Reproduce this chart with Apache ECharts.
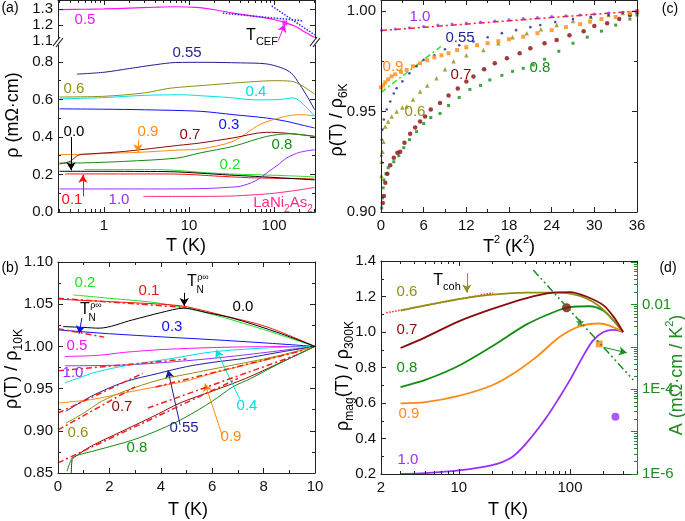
<!DOCTYPE html>
<html><head><meta charset="utf-8">
<script src="https://cdn.jsdelivr.net/npm/echarts@6/dist/echarts.min.js"></script>
<style>html,body{margin:0;padding:0;background:#fff}#c{width:685px;height:521px}</style>
</head><body><div id="c"></div>
<script>
const FONT = '"Liberation Sans", Arial, Helvetica, sans-serif';
const AXC = '#222';

// ---------------- Panel (a): rho(T) vs log T ----------------
const aXLabels = [1, 10, 100];
const aYTopLabels = [1.1, 1.2, 1.3];
const aYLabels = [0.0, 0.2, 0.4, 0.6, 0.8];
const a05 = [[0.3,1.298],[0.6,1.300],[1,1.302],[2,1.307],[4,1.313],[7,1.316],[12,1.312],[20,1.297],[33,1.276],[60,1.255],[100,1.235],[135,1.215],[180,1.19],[230,1.155],[300,1.12]];
const aCEF1 = [[25,1.275],[219,1.227]];
const aCEF2 = [[94,1.321],[300,1.137]];
const aTcefPoint = [[134,1.213]];
const a055 = [[0.48,0.735],[1,0.745],[2,0.765],[4,0.785],[7,0.797],[15,0.798],[40,0.795],[80,0.79],[120,0.77],[160,0.74],[200,0.68],[250,0.61],[300,0.545]];
const a06 = [[0.3,0.613],[1,0.617],[3,0.635],[6,0.66],[15,0.675],[40,0.69],[100,0.70],[160,0.697],[220,0.67],[300,0.628]];
const a04 = [[0.3,0.603],[1,0.61],[3,0.622],[8,0.625],[13.5,0.62],[30,0.61],[60,0.598],[108,0.599],[169,0.608],[202,0.59],[250,0.55],[300,0.51]];
const a03 = [[0.3,0.55],[1,0.548],[3,0.545],[13.5,0.537],[33,0.519],[82,0.501],[141,0.483],[220,0.462],[300,0.448]];
const a09 = [[0.3,0.306],[0.5,0.307],[1,0.312],[2.5,0.318],[7.4,0.33],[13.5,0.336],[33,0.377],[68,0.466],[128,0.507],[200,0.519],[300,0.513]];
const a07 = [[0.3,0.256],[0.4,0.27],[0.5,0.303],[0.7,0.31],[1.75,0.323],[7.4,0.355],[13.5,0.368],[33,0.395],[82,0.425],[141,0.42],[300,0.403]];
const a08 = [[0.3,0.261],[0.6,0.262],[1.75,0.27],[7.4,0.288],[13.5,0.315],[33,0.35],[82,0.403],[154,0.417],[300,0.403]];
const a00 = [[0.3,0.217],[1,0.217],[3,0.216],[6,0.215],[13.5,0.207],[30,0.197],[60,0.19],[100,0.184],[200,0.176],[300,0.171]];
const a02 = [[0.59,0.226],[1,0.226],[3,0.226],[6,0.224],[13.5,0.212],[30,0.203],[82,0.197],[150,0.193],[300,0.187]];
const a01 = [[0.35,0.203],[1,0.203],[5,0.203],[10,0.2],[20,0.192],[50,0.183],[100,0.18],[200,0.178],[300,0.176]];
const a10 = [[0.3,0.123],[1,0.123],[5,0.123],[15,0.125],[30,0.132],[40,0.137],[60,0.165],[82,0.208],[110,0.25],[141,0.288],[200,0.318],[300,0.332]];
const aLa = [[2.9,0.083],[10,0.083],[30,0.085],[60,0.092],[100,0.1],[200,0.118],[300,0.131]];

// ---------------- Panel (c): rho/rho6K vs T^2 ----------------
const cXLabels = [0, 6, 12, 18, 24, 30, 36];
const cYLabels = [0.90, 0.95, 1.00];
const c10 = [[0.1,0.9905],[2,0.9911],[4,0.9917],[6,0.9923],[8,0.993],[10,0.9935],[12,0.994],[14,0.9945],[16,0.995],[18,0.9957],[20,0.9963],[22,0.9968],[24,0.9973],[26,0.9977],[28,0.998],[30,0.9985],[32,0.999],[34,0.9994],[36,0.9998]];
const c055 = [[0.05,0.928],[0.1,0.936],[0.2,0.941],[0.4,0.946],[0.8,0.951],[1.3,0.955],[1.8,0.959],[2.2,0.9616],[3,0.965],[4,0.969],[5,0.9725],[6,0.9757],[7.5,0.978],[9,0.981],[11,0.983],[13,0.9848],[15,0.987],[17,0.989],[19,0.9905],[21,0.992],[22.4,0.993],[24.5,0.9945],[27,0.996],[29.5,0.997],[32,0.998],[34,0.999],[36,1.0]];
const c06 = [[0.05,0.918],[0.1,0.925],[0.2,0.93],[0.35,0.935],[0.6,0.9426],[1,0.945],[1.5,0.9475],[2.2,0.95],[3,0.952],[3.6,0.9525],[4.5,0.956],[5.5,0.96],[6.5,0.963],[7.8,0.9666],[9,0.971],[10.2,0.975],[12,0.978],[14.4,0.9806],[16.5,0.984],[18.5,0.987],[20.5,0.989],[22.5,0.991],[24.7,0.993],[27,0.995],[29.5,0.997],[32,0.998],[34,0.999],[36,1.0]];
const c09 = [[0,0.962],[0.3,0.963],[0.6,0.9645],[1,0.966],[1.5,0.9675],[2,0.9685],[2.8,0.9697],[3.6,0.9707],[4.5,0.9725],[5.5,0.974],[6.5,0.9755],[7.5,0.977],[8.5,0.978],[9.5,0.979],[10.7,0.9806],[12,0.982],[13.5,0.983],[15,0.984],[16.5,0.985],[18,0.986],[20,0.9872],[22,0.989],[24,0.9905],[26,0.992],[28,0.9935],[29.4,0.9947],[31,0.996],[33,0.997],[35,0.999],[36,1.0]];
const c07 = [[0.25,0.9045],[0.4,0.908],[0.6,0.9145],[0.9,0.919],[1.3,0.9233],[1.8,0.927],[2.3,0.9295],[2.7,0.930],[3.3,0.9345],[4.1,0.939],[4.8,0.942],[5.5,0.945],[6.2,0.9475],[7,0.951],[8.3,0.9542],[9.5,0.958],[10.8,0.9615],[12,0.965],[13,0.9674],[14.5,0.971],[16,0.974],[17.7,0.9765],[19.5,0.979],[21,0.9815],[23,0.984],[24.7,0.9856],[26.5,0.988],[28.5,0.99],[30,0.9925],[31.8,0.9939],[33.5,0.996],[35,0.998],[36,0.9995]];
const c08 = [[0.1,0.902],[0.2,0.907],[0.3,0.912],[0.4,0.916],[0.7,0.919],[1,0.922],[1.8,0.925],[2.5,0.928],[3.2,0.932],[4,0.936],[5,0.94],[6,0.944],[7,0.947],[8.3,0.949],[9.5,0.953],[11,0.957],[12.5,0.961],[14,0.963],[15.3,0.9657],[17,0.968],[18.5,0.97],[20,0.9715],[21.4,0.9732],[23,0.976],[25,0.98],[27,0.984],[29,0.987],[31,0.99],[33,0.993],[35,0.996],[36,0.998]];
const cFit10 = [[0,0.9903],[36,1.0]];
const cFit09 = [[0,0.9595],[8.4,0.9823]];

// ---------------- Panel (b): rho/rho10K vs T ----------------
const bXLabels = [0, 2, 4, 6, 8, 10];
const bYLabels = [0.85, 0.90, 0.95, 1.00, 1.05, 1.10];
const b02 = [[0.6,1.061],[2,1.057],[4,1.051],[6,1.038],[8,1.02],[10,1.0]];
const b01 = [[0,1.056],[2,1.053],[4,1.05],[5,1.047],[6.5,1.036],[8.1,1.0235],[10,1.0]];
const b00 = [[0.2,1.0235],[1,1.0225],[1.6,1.0216],[2.9,1.0314],[4,1.04],[4.9,1.0453],[5.8,1.04],[6.8,1.0334],[8.5,1.017],[10,1.0]];
const b03 = [[0,1.0196],[0.8,1.0177],[2,1.015],[4.2,1.011],[6,1.008],[8.1,1.004],[10,1.0]];
const b05 = [[0.27,0.988],[1.6,0.9895],[2.6,0.993],[4.2,0.9965],[6.8,0.9992],[10,1.0]];
const b10 = [[0.27,0.977],[2.6,0.978],[5,0.983],[7,0.989],[10,1.0]];
const b04 = [[0.27,0.957],[0.8,0.9625],[1.3,0.968],[2.1,0.974],[3.2,0.98],[4.5,0.986],[6,0.9935],[8,0.998],[10,1.0]];
const b055 = [[0.3,0.923],[1.3,0.941],[2.6,0.958],[3.9,0.968],[5,0.976],[6,0.981],[7.3,0.986],[8.6,0.993],[10,1.0]];
const b06 = [[0.3,0.909],[1,0.921],[1.7,0.935],[2.6,0.947],[3.9,0.96],[5,0.967],[6,0.973],[7,0.979],[8,0.985],[9,0.992],[10,1.0]];
const b09 = [[0,0.933],[1.3,0.937],[2.6,0.945],[3.9,0.9526],[5,0.959],[6,0.968],[7.3,0.978],[8.6,0.988],[10,1.0]];
const b07 = [[0.52,0.85],[0.55,0.866],[0.65,0.869],[1.3,0.882],[2.6,0.901],[3.9,0.92],[4.75,0.933],[6,0.947],[7.3,0.962],[8.6,0.98],[10,1.0]];
const b08 = [[0.35,0.852],[0.55,0.868],[0.75,0.871],[1.5,0.877],[2.9,0.889],[4,0.902],[4.9,0.915],[6,0.935],[6.8,0.952],[7.5,0.962],[8.5,0.978],[9.3,0.99],[10,1.0]];
const bFit08 = [[0,0.862],[7,0.962]];
const bFit07 = [[3.5,0.927],[9.3,0.99]];
const bFit06 = [[0,0.901],[3,0.952]];
const bFit055 = [[0,0.921],[3.3,0.968]];
const bFit09 = [[3.8,0.952],[9.5,0.995]];
const bFit10 = [[0,0.971],[5,0.985]];
const bFit01 = [[0,1.057],[5,1.046]];
const bFit03 = [[0,1.021],[1.8,1.011]];

// ---------------- Panel (d): rho_mag/rho300K vs log T, and A ----------------
const dXLabels = [2, 10, 100];
const dYLabels = [0.2, 0.4, 0.6, 0.8, 1.0, 1.2, 1.4];
const dALabels = [1e-6, 1e-4, 1e-2];
const d06 = [[3,1.12],[5,1.15],[10,1.185],[20,1.21],[40,1.222],[80,1.222],[120,1.205],[160,1.17],[200,1.125],[250,1.06],[300,1.0]];
const d07 = [[3,0.91],[5,0.97],[10,1.06],[20,1.13],[40,1.19],[70,1.222],[100,1.225],[140,1.2],[200,1.15],[250,1.08],[300,1.0]];
const d08 = [[3,0.69],[5,0.73],[10,0.81],[20,0.92],[40,1.04],[70,1.11],[100,1.14],[150,1.145],[200,1.12],[250,1.06],[300,1.0]];
const d09 = [[3,0.598],[5,0.605],[10,0.64],[20,0.7],[30,0.76],[50,0.86],[80,0.97],[120,1.03],[180,1.048],[230,1.035],[300,1.0]];
const d10 = [[3,0.2],[5,0.205],[10,0.22],[20,0.25],[30,0.295],[40,0.37],[60,0.51],[80,0.63],[100,0.73],[130,0.86],[160,0.95],[200,1.0],[250,1.012],[300,1.0]];
const dFit06 = [[2.23,1.108],[20.4,1.221]];
const dA07 = [[93,0.00845]];
const dA08 = [[123,0.00382]];
const dA09 = [[183,0.00118]];
const dA10 = [[256,2.25e-5]];
const dAtrend = [[46.7,0.0656],[370,1.66e-4]];

// ---------------- colours ----------------
const C = {x00:'#000000', x01:'#ff1010', x02:'#22e022', x03:'#1010ff', x04:'#00e0e0', x05:'#ff10ff',
  x055:'#1f1f96', x06:'#8f8f12', x07:'#8b0a0a', x08:'#138c13', x09:'#ff8a14', x10:'#9a2eff', la:'#ff2a8a', A:'#1e8c1e'};

// ---------------- axes ----------------
const xAxes = [], yAxes = [];
function mk(o) {
  const col = o.color || AXC;
  const a = {
    type: o.type || 'value', gridIndex: o.grid, position: o.pos, min: o.min, max: o.max,
    axisLine: {show: !!o.line, onZero: false, lineStyle: {color: col, width: 1}},
    axisTick: {show: true, inside: true, length: o.len || 5, customValues: o.ticks, lineStyle: {color: col, width: 1}},
    axisLabel: {show: !!o.labels, color: o.lcolor || '#111', fontSize: o.fs || 15, fontFamily: FONT, margin: o.margin == null ? 5 : o.margin},
    splitLine: {show: false}, minorTick: {show: false}, minorSplitLine: {show: false},
    silent: true, z: 10
  };
  if (o.labels) a.axisLabel.customValues = o.labels;
  if (o.fmt) a.axisLabel.formatter = o.fmt;
  if (a.type === 'log') a.logBase = 10;
  return a;
}
function addX(o) { xAxes.push(mk(o)); return xAxes.length - 1; }
function addY(o) { yAxes.push(mk(o)); return yAxes.length - 1; }
const seq = (a, b, s) => { const r = []; for (let v = a; v <= b + 1e-9; v += s) r.push(+v.toFixed(4)); return r; };
const logMinor = (decades, from, to) => { const r = []; decades.forEach(d => { for (let k = 2; k <= 9; k++) { const v = +(k * d).toPrecision(3); if (v >= from && v <= to) r.push(v); } }); return r; };

const f1 = v => v.toFixed(1), f2 = v => v.toFixed(2), fi = v => String(Math.round(v));

// grid 0: (a) upper
const aXmin = 0.288, aXmax = 303;
const aMinorX = logMinor([0.1, 1, 10, 100], 0.3, 300);
const gx0 = addX({grid:0, type:'log', min:aXmin, max:aXmax, pos:'top', line:true, ticks:aXLabels});
addX({grid:0, type:'log', min:aXmin, max:aXmax, pos:'top', ticks:aMinorX, len:3});
const gy0 = addY({grid:0, min:1.098, max:1.359, pos:'left', line:true, ticks:aYTopLabels, labels:aYTopLabels, fmt:f1});
addY({grid:0, min:1.098, max:1.359, pos:'right', line:true, ticks:aYTopLabels});
// grid 1: (a) lower
const gx1 = addX({grid:1, type:'log', min:aXmin, max:aXmax, pos:'bottom', line:true, ticks:aXLabels, labels:aXLabels, fmt:fi, margin:6});
addX({grid:1, type:'log', min:aXmin, max:aXmax, pos:'bottom', ticks:aMinorX, len:3});
const gy1 = addY({grid:1, min:0, max:0.901, pos:'left', line:true, ticks:aYLabels, labels:aYLabels, fmt:f1});
addY({grid:1, min:0, max:0.901, pos:'left', ticks:[0.1,0.3,0.5,0.7], len:3});
addY({grid:1, min:0, max:0.901, pos:'right', line:true, ticks:aYLabels});
addY({grid:1, min:0, max:0.901, pos:'right', ticks:[0.1,0.3,0.5,0.7], len:3});
// grid 2: (c)
const gx2 = addX({grid:2, min:0, max:36, pos:'bottom', line:true, ticks:cXLabels, labels:cXLabels, fmt:fi, margin:6});
addX({grid:2, min:0, max:36, pos:'bottom', ticks:seq(3,33,6), len:3});
addX({grid:2, min:0, max:36, pos:'top', line:true, ticks:cXLabels});
addX({grid:2, min:0, max:36, pos:'top', ticks:seq(3,33,6), len:3});
const gy2 = addY({grid:2, min:0.9, max:1.0055, pos:'left', line:true, ticks:cYLabels, labels:cYLabels, fmt:f2});
addY({grid:2, min:0.9, max:1.0055, pos:'left', ticks:[0.925,0.975], len:3});
addY({grid:2, min:0.9, max:1.0055, pos:'right', line:true, ticks:cYLabels});
addY({grid:2, min:0.9, max:1.0055, pos:'right', ticks:[0.925,0.975], len:3});
// grid 3: (b)
const gx3 = addX({grid:3, min:0, max:10, pos:'bottom', line:true, ticks:bXLabels, labels:bXLabels, fmt:fi, margin:6});
addX({grid:3, min:0, max:10, pos:'bottom', ticks:seq(1,9,2), len:3});
addX({grid:3, min:0, max:10, pos:'top', line:true, ticks:bXLabels});
addX({grid:3, min:0, max:10, pos:'top', ticks:seq(1,9,2), len:3});
const gy3 = addY({grid:3, min:0.85, max:1.10, pos:'left', line:true, ticks:bYLabels, labels:bYLabels, fmt:f2});
addY({grid:3, min:0.85, max:1.10, pos:'left', ticks:seq(0.875,1.075,0.05), len:3});
addY({grid:3, min:0.85, max:1.10, pos:'right', line:true, ticks:bYLabels});
addY({grid:3, min:0.85, max:1.10, pos:'right', ticks:seq(0.875,1.075,0.05), len:3});
// grid 4: (d)
const dMinorX = logMinor([1, 10, 100], 2.5, 400);
const gx4 = addX({grid:4, type:'log', min:2, max:400, pos:'bottom', line:true, ticks:[10,100], labels:dXLabels, fmt:fi, margin:6});
addX({grid:4, type:'log', min:2, max:400, pos:'bottom', ticks:dMinorX, len:3});
addX({grid:4, type:'log', min:2, max:400, pos:'top', line:true, ticks:[10,100]});
addX({grid:4, type:'log', min:2, max:400, pos:'top', ticks:dMinorX, len:3});
const gy4 = addY({grid:4, min:0.2, max:1.4, pos:'left', line:true, ticks:dYLabels, labels:dYLabels, fmt:f1});
addY({grid:4, min:0.2, max:1.4, pos:'left', ticks:seq(0.3,1.3,0.2), len:3});
const aFmt = v => { const e = Math.round(Math.log10(v)); return e === -2 ? '0.01' : ('1E' + e); };
const gyA = addY({grid:4, type:'log', min:1e-6, max:0.107, pos:'right', line:true, color:C.A, lcolor:C.A, ticks:[1e-6,1e-5,1e-4,1e-3,1e-2,1e-1], labels:dALabels, fmt:aFmt, len:6});
addY({grid:4, type:'log', min:1e-6, max:0.107, pos:'right', color:C.A, ticks:logMinor([1e-6,1e-5,1e-4,1e-3,1e-2], 1e-6, 0.107), len:3});

// ---------------- series ----------------
const series = [];
function ln(data, color, xi, yi, w, extra) {
  const s = {type:'line', data, xAxisIndex: xi, yAxisIndex: yi, showSymbol:false, symbol:'none', smooth:0.3,
    lineStyle:{color, width: w || 1}, itemStyle:{color}, silent:true, animation:false, z:3};
  Object.assign(s, extra || {});
  series.push(s); return s;
}
function dots(data, color, symbol, size, xi, yi) {
  series.push({type:'scatter', data, xAxisIndex: xi, yAxisIndex: yi, symbol, symbolSize: size,
    itemStyle:{color}, silent:true, animation:false, z:4});
}
function arrows(host, list) {
  host.markLine = {silent:true, animation:false, symbol:['none','arrow'], symbolSize:[7,8], label:{show:false},
    data: list.map(a => [{coord:a[0], lineStyle:{color:a[2], width:1, type:'solid'}}, {coord:a[1]}])};
}
const DD = [6,3,2,3];

// (a)
const sA05 = ln(a05, C.x05, gx0, gy0, 1.2);
ln(aCEF1, '#2a2aff', gx0, gy0, 1.5, {smooth:false, lineStyle:{color:'#2a2aff', width:1.5, type:'dotted'}});
ln(aCEF2, '#2a2aff', gx0, gy0, 1.5, {smooth:false, lineStyle:{color:'#2a2aff', width:1.5, type:'dotted'}});
dots(aTcefPoint, C.x05, 'rect', 5, gx0, gy0);
arrows(sA05, [[[112,1.10],[134,1.205],C.x05]]);
ln(a055, C.x055, gx1, gy1);
ln(a06, C.x06, gx1, gy1);
ln(a04, C.x04, gx1, gy1);
ln(a03, C.x03, gx1, gy1);
ln(a09, C.x09, gx1, gy1);
ln(a07, C.x07, gx1, gy1);
ln(a08, C.x08, gx1, gy1);
ln(a02, C.x02, gx1, gy1);
ln(a01, C.x01, gx1, gy1);
const sA00 = ln(a00, C.x00, gx1, gy1);
ln(a10, C.x10, gx1, gy1);
ln(aLa, C.la, gx1, gy1);
arrows(sA00, [[[0.41,0.40],[0.41,0.222],C.x00],[[2.51,0.386],[2.51,0.318],C.x09],[[0.566,0.083],[0.566,0.199],C.x01]]);

// (c)
ln(cFit10, '#ff2020', gx2, gy2, 1.5, {smooth:false, lineStyle:{color:'#ff2020', width:1.5, type:DD}});
dots(c08, C.x08, 'rect', 3, gx2, gy2);
dots(c07, C.x07, 'circle', 4.5, gx2, gy2);
dots(c06, C.x06, 'triangle', 4.5, gx2, gy2);
dots(c055, C.x055, 'circle', 2.6, gx2, gy2);
dots(c09, C.x09, 'rect', 4, gx2, gy2);
dots(c10, C.x10, 'circle', 3, gx2, gy2);
ln(cFit09, '#33dd33', gx2, gy2, 1.5, {smooth:false, lineStyle:{color:'#33dd33', width:1.5, type:DD}});

// (b)
ln(b02, C.x02, gx3, gy3);
ln(b01, C.x01, gx3, gy3);
const sB00 = ln(b00, C.x00, gx3, gy3);
ln(b03, C.x03, gx3, gy3);
ln(b05, C.x05, gx3, gy3);
ln(b10, C.x10, gx3, gy3);
ln(b04, C.x04, gx3, gy3);
ln(b055, C.x055, gx3, gy3);
ln(b06, C.x06, gx3, gy3);
ln(b09, C.x09, gx3, gy3);
ln(b07, C.x07, gx3, gy3);
ln(b08, C.x08, gx3, gy3);
[bFit08, bFit07, bFit06, bFit055, bFit09, bFit10, bFit01, bFit03].forEach(f =>
  ln(f, '#ff1a1a', gx3, gy3, 1.5, {smooth:false, z:5, lineStyle:{color:'#ff1a1a', width:1.5, type:DD}}));
arrows(sB00, [[[4.91,1.0634],[4.91,1.048],C.x00],[[0.93,1.0338],[0.82,1.015],C.x03],
  [[4.75,0.907],[4.28,0.972],C.x055],[[7.08,0.937],[6.15,0.996],C.x04],[[6.38,0.8955],[5.72,0.956],C.x09]]);

// (d)
ln(dFit06, '#ff2020', gx4, gy4, 1.5, {smooth:false, lineStyle:{color:'#ff2020', width:1.5, type:'dotted'}});
ln(d10, C.x10, gx4, gy4, 1.8);
ln(d09, C.x09, gx4, gy4, 1.8);
ln(d08, C.x08, gx4, gy4, 1.8);
const sD06 = ln(d06, C.x06, gx4, gy4, 1.8);
ln(d07, C.x07, gx4, gy4, 1.8);
const sDA = ln(dAtrend, C.A, gx4, gyA, 1.5, {smooth:false, z:6, lineStyle:{color:C.A, width:1.5, type:[8,3,2,3,2,3]}});
dots(dA07, C.x07, 'circle', 9, gx4, gyA);
dots(dA08, C.x08, 'path://M0,-10 L2.9,-4 9.5,-3.1 4.8,1.5 5.9,8.1 0,5 -5.9,8.1 -4.8,1.5 -9.5,-3.1 -2.9,-4 Z', 8, gx4, gyA);
dots(dA09, C.x09, 'rect', 7, gx4, gyA);
dots(dA10, C.x10, 'circle', 8, gx4, gyA);
arrows(sD06, [[[11.8,1.332],[11.8,1.222],C.x06]]);
arrows(sDA, [[[200,9.8e-4],[324,7.3e-4],C.A]]);

// ---------------- text ----------------
function txt(x, y, text, color, size, rot) {
  const s = size || 15;
  return {type:'text', x, y, rotation: rot || 0, silent:true, z:200,
    style:{text, fill: color || '#000', fontSize: s, fontFamily: FONT,
      align:'center', verticalAlign:'middle', textAlign:'center', textVerticalAlign:'middle',
      rich:{
        b:{fontSize:s, fontFamily:FONT, lineHeight:Math.round(s*1.45), verticalAlign:'middle'},
        s:{fontSize:Math.round(s*0.66), fontFamily:FONT, lineHeight:Math.round(s*0.66), verticalAlign:'bottom'},
        p:{fontSize:Math.round(s*0.62), fontFamily:FONT, lineHeight:Math.round(s*0.62), verticalAlign:'top'}
      }}};
}
const R = Math.PI / 2;
const texts = [
  txt(10, 8, '(a)', '#000', 14), txt(10, 268, '(b)', '#000', 14), txt(670, 9, '(c)', '#000', 14), txt(668, 268, '(d)', '#000', 14),
  // axis titles
  txt(13, 115, 'ρ (mΩ·cm)', '#000', 18, R),
  txt(186, 246, 'T (K)', '#000', 18),
  txt(337, 120, '{b|ρ(T) / ρ}{s|6K}', '#000', 18, R),
  txt(509, 247, '{b|T}{p|2}{b| (K}{p|2}{b|)}', '#000', 18),
  txt(12, 369, '{b|ρ(T) / ρ}{s|10K}', '#000', 18, R),
  txt(188, 510, 'T (K)', '#000', 18),
  txt(343, 376, '{b|ρ}{s|mag}{b|(T) / ρ}{s|300K}', '#000', 18, R),
  txt(508, 510, 'T (K)', '#000', 18),
  txt(677, 375, '{b|A (mΩ·cm / K}{p|2}{b|)}', C.A, 18, R),
  // (a) labels
  txt(85, 20, '0.5', C.x05, 15), txt(262, 36, '{b|T}{s|CEF}', '#000', 16),
  txt(187, 53, '0.55', C.x055, 15), txt(74, 89, '0.6', C.x06, 15), txt(256, 92, '0.4', C.x04, 15),
  txt(229, 125, '0.3', C.x03, 15), txt(74, 132, '0.0', '#000', 15), txt(148, 132, '0.9', C.x09, 15),
  txt(190, 135, '0.7', C.x07, 15), txt(282, 145, '0.8', C.x08, 15), txt(230, 165, '0.2', C.x02, 15),
  txt(72, 200, '0.1', C.x01, 15), txt(119, 200, '1.0', C.x10, 15), txt(283, 203, '{b|LaNi}{s|2}{b|As}{s|2}', C.la, 15),
  // (c) labels
  txt(420, 17, '1.0', C.x10, 15), txt(460, 38, '0.55', C.x055, 15), txt(393, 67, '0.9', C.x09, 15),
  txt(461, 75, '0.7', C.x07, 15), txt(540, 68, '0.8', C.x08, 15), txt(415, 112, '0.6', C.x06, 15),
  // (b) labels
  txt(85, 283, '0.2', C.x02, 15), txt(149, 291, '0.1', C.x01, 15), txt(243, 307, '0.0', '#000', 15),
  txt(192, 282, 'T', '#000', 16), txt(200, 290, 'N', '#000', 10), txt(203, 278, 'ρ∞', '#000', 9),
  txt(85, 310, 'T', '#000', 16), txt(92, 318, 'N', '#000', 10), txt(96, 306, 'ρ∞', '#000', 9),
  txt(172, 327, '0.3', C.x03, 15), txt(77, 346, '0.5', C.x05, 15), txt(73, 373, '1.0', C.x10, 15),
  txt(122, 407, '0.7', C.x07, 15), txt(184, 428, '0.55', C.x055, 15), txt(231, 437, '0.9', C.x09, 15),
  txt(247, 406, '0.4', C.x04, 15), txt(78, 433, '0.6', C.x06, 15), txt(137, 448, '0.8', C.x08, 15),
  // (d) labels
  txt(407, 292, '0.6', C.x06, 15), txt(407, 330, '0.7', C.x07, 15), txt(407, 368, '0.8', C.x08, 15),
  txt(409, 414, '0.9', C.x09, 15), txt(408, 460, '1.0', C.x10, 15), txt(447, 281, '{b|T}{s|coh}', '#000', 16)
];
// axis-break marks of panel (a)
function brk(x) {
  return [
    {type:'rect', shape:{x:x-6, y:39, width:12, height:6}, style:{fill:'#fff'}, z:150, silent:true},
    {type:'line', shape:{x1:x-5, y1:46, x2:x+2, y2:37}, style:{stroke:'#222', lineWidth:1.2}, z:151, silent:true},
    {type:'line', shape:{x1:x-2, y1:47, x2:x+5, y2:38}, style:{stroke:'#222', lineWidth:1.2}, z:151, silent:true}
  ];
}
const graphics = texts.concat(brk(58), brk(315));

const option = {
  animation:false,
  backgroundColor:'#fff',
  textStyle:{fontFamily:FONT},
  grid:[
    {left:58, top:0, width:257, height:41},
    {left:58, top:43, width:257, height:169},
    {left:381, top:0, width:256, height:212},
    {left:58, top:262, width:257, height:211},
    {left:381, top:261, width:256, height:213}
  ],
  xAxis:xAxes, yAxis:yAxes, series, graphic:graphics
};
const chart = echarts.init(document.getElementById('c'), null, {renderer:'canvas'});
chart.setOption(option);
</script></body></html>
